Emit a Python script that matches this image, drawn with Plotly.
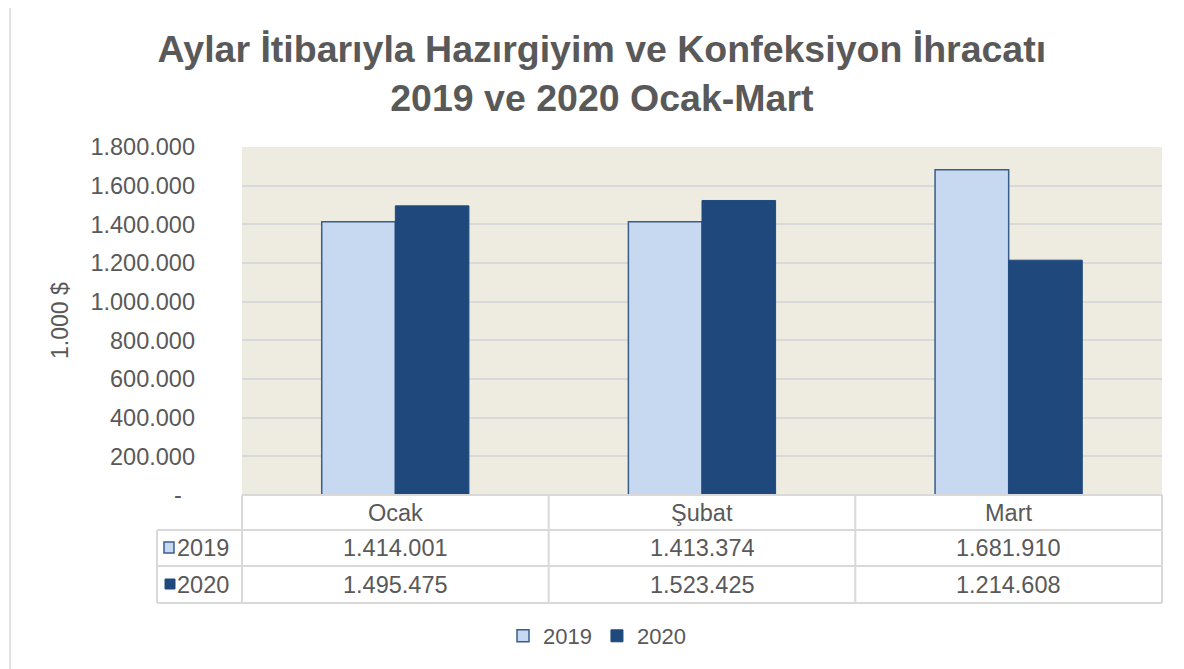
import plotly.graph_objects as go

# ---- data ----
months = ["Ocak", "Şubat", "Mart"]
series_names = ["2019", "2020"]
values_2019 = [1414001, 1413374, 1681910]
values_2020 = [1495475, 1523425, 1214608]
y_ticks = [0, 200000, 400000, 600000, 800000, 1000000, 1200000, 1400000, 1600000, 1800000]

title_text = "Aylar İtibarıyla Hazırgiyim ve Konfeksiyon İhracatı<br>2019 ve 2020 Ocak-Mart"
y_title = "1.000 $"

C_2019 = "#C6D9F1"
C_2019_LINE = "#385D8A"
C_2020 = "#1F497D"
TXT = "#595959"
GRID = "#D9D9D9"
FONT = "Liberation Sans, Arial, sans-serif"


def fmt(v):
    return f"{v:,}".replace(",", ".")


tick_text = ["-\u00a0\u00a0" if v == 0 else fmt(v) for v in y_ticks]

# ---- layout geometry (page pixels; page body has an 8px offset) ----
OFF = 8
W, H = 1184 - OFF, 669 - OFF
PL, PR, PT, PB = 242, 1162, 147, 495
PW, PH = PR - PL, PB - PT


def px(x):
    return (x - PL) / PW


def py(y):
    return (PB - y) / PH


fig = go.Figure()
fig.add_trace(go.Bar(name=series_names[0], x=months, y=values_2019,
                     marker=dict(color=C_2019, line=dict(color=C_2019_LINE, width=1.5))))
fig.add_trace(go.Bar(name=series_names[1], x=months, y=values_2020,
                     marker=dict(color=C_2020, line=dict(color=C_2020, width=1))))

shapes = []
# outer frame
shapes.append(dict(type="rect", xref="paper", yref="paper", x0=px(10), x1=px(1200),
                   y0=py(700), y1=py(7), line=dict(color="#D9D9D9", width=1.5),
                   fillcolor="rgba(0,0,0,0)", layer="below"))

# data table grid lines
line_style = dict(color=GRID, width=2)
ROW_TOP, ROW1, ROW2, ROW3 = 495, 530, 566, 603
LABEL_LEFT = 157
for yy in (ROW1, ROW2, ROW3):
    shapes.append(dict(type="line", xref="paper", yref="paper", x0=px(LABEL_LEFT), x1=px(PR),
                       y0=py(yy), y1=py(yy), line=line_style))
shapes.append(dict(type="line", xref="paper", yref="paper", x0=px(PL), x1=px(PR),
                   y0=py(ROW_TOP), y1=py(ROW_TOP), line=line_style))
shapes.append(dict(type="line", xref="paper", yref="paper", x0=px(LABEL_LEFT), x1=px(LABEL_LEFT),
                   y0=py(ROW1), y1=py(ROW3), line=line_style))
for i in range(len(months) + 1):
    xx = PL + i * PW / len(months)
    shapes.append(dict(type="line", xref="paper", yref="paper", x0=px(xx), x1=px(xx),
                       y0=py(ROW_TOP), y1=py(ROW3), line=line_style))

# legend keys in the table
shapes.append(dict(type="rect", xref="paper", yref="paper", x0=px(164), x1=px(174),
                   y0=py(553), y1=py(542), fillcolor=C_2019, line=dict(color=C_2019_LINE, width=1.5)))
shapes.append(dict(type="rect", xref="paper", yref="paper", x0=px(165), x1=px(175),
                   y0=py(589), y1=py(579), fillcolor=C_2020, line=dict(color=C_2020, width=1)))

annotations = []
tfont = dict(family=FONT, size=23.5, color=TXT)
for i, m in enumerate(months):
    annotations.append(dict(x=m, xref="x", y=py((ROW_TOP + ROW1) / 2), yref="paper",
                            text=m, showarrow=False, font=tfont, xanchor="center", yanchor="middle"))
    annotations.append(dict(x=m, xref="x", y=py((ROW1 + ROW2) / 2), yref="paper",
                            text=fmt(values_2019[i]), showarrow=False, font=tfont,
                            xanchor="center", yanchor="middle"))
    annotations.append(dict(x=m, xref="x", y=py((ROW2 + ROW3) / 2), yref="paper",
                            text=fmt(values_2020[i]), showarrow=False, font=tfont,
                            xanchor="center", yanchor="middle"))
for name, yc in zip(series_names, ((ROW1 + ROW2) / 2, (ROW2 + ROW3) / 2)):
    annotations.append(dict(x=px(175), xref="paper", y=py(yc), yref="paper", text=name,
                            showarrow=False, font=tfont, xanchor="left", yanchor="middle"))

# y axis title
annotations.append(dict(x=px(60), xref="paper", y=py(321), yref="paper", text=y_title,
                        textangle=-90, showarrow=False, font=dict(family=FONT, size=23, color=TXT),
                        xanchor="center", yanchor="middle"))

fig.update_layout(
    width=W, height=H, autosize=False,
    margin=dict(l=PL - OFF, r=1184 - PR, t=PT - OFF, b=669 - PB, pad=0),
    paper_bgcolor="white",
    plot_bgcolor="#EEECE1",
    title=dict(text=title_text, x=0.505, xanchor="center", y=1 - 54 / H, yanchor="middle",
               font=dict(family=FONT, size=37.5, color=TXT, weight="bold")),
    barmode="group", bargap=0.52, bargroupgap=0,
    showlegend=True,
    legend=dict(orientation="h", x=px(597), xanchor="center", y=py(636), yanchor="middle",
                font=dict(family=FONT, size=22, color=TXT), itemwidth=30,
                bgcolor="rgba(0,0,0,0)"),
    shapes=shapes,
    annotations=annotations,
    font=dict(family=FONT, color=TXT),
)
fig.update_xaxes(showticklabels=False, showgrid=False, zeroline=False, ticks="",
                 range=[-0.5, len(months) - 0.5])
fig.update_yaxes(range=[0, 1800000], tickvals=y_ticks, ticktext=tick_text,
                 showgrid=True, gridcolor=GRID, gridwidth=1.5, zeroline=False,
                 tickfont=dict(family=FONT, size=23.5, color=TXT), ticklabelstandoff=46)

fig.write_html("out.html")
